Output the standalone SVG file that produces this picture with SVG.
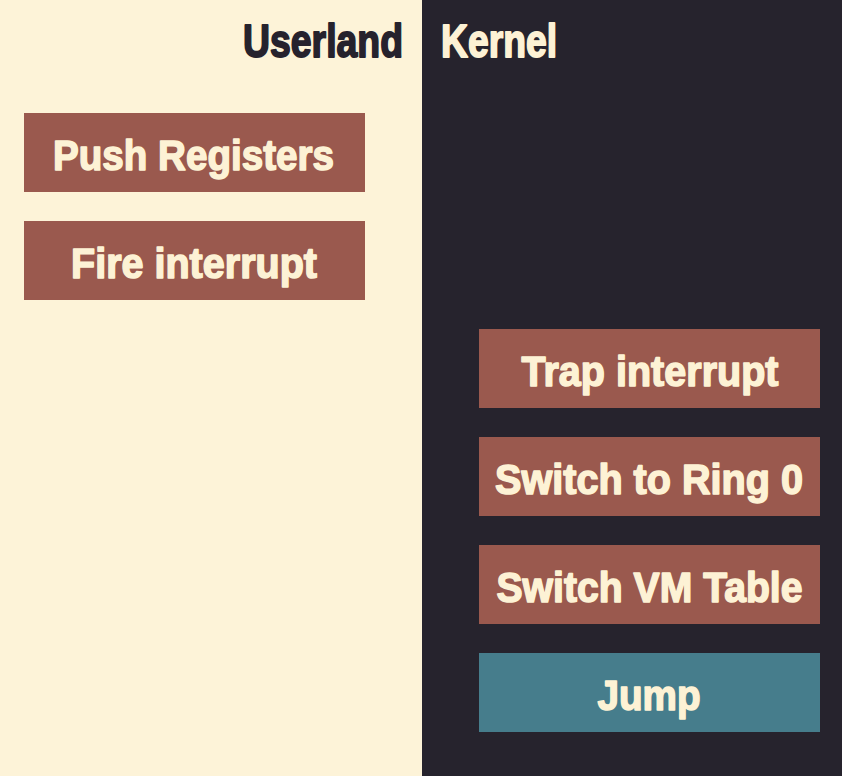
<svg xmlns="http://www.w3.org/2000/svg" width="842" height="776" viewBox="0 0 842 776">
<style>
.lbl{font-family:"Liberation Sans",Arial,sans-serif;font-weight:bold;font-size:43px;fill:#FDF2D5;stroke:#FDF2D5;stroke-width:1.6px;stroke-linejoin:round;text-anchor:middle}
.hdr{font-family:"Liberation Sans",Arial,sans-serif;font-weight:bold;font-size:46px;stroke-width:1.8px;stroke-linejoin:round}
.red{fill:#9A594E}
.teal{fill:#467D8C}
</style>
<rect x="0" y="0" width="422" height="776" fill="#FDF3D8"/>
<rect x="422" y="0" width="420" height="776" fill="#26232D"/>
<g id="header-userland"><text class="hdr" x="243" y="57" fill="#26222D" stroke="#26222D" textLength="160" lengthAdjust="spacingAndGlyphs">Userland</text></g>
<g id="header-kernel"><text class="hdr" x="441" y="57" fill="#FDF2D5" stroke="#FDF2D5" textLength="116" lengthAdjust="spacingAndGlyphs">Kernel</text></g>
<g id="push-registers"><rect class="red" x="24" y="113" width="341" height="79"/><text class="lbl" x="193.5" y="169.5" textLength="281" lengthAdjust="spacingAndGlyphs">Push Registers</text></g>
<g id="fire-interrupt"><rect class="red" x="24" y="221" width="341" height="79"/><text class="lbl" x="194" y="277.5" textLength="246" lengthAdjust="spacingAndGlyphs">Fire interrupt</text></g>
<g id="trap-interrupt"><rect class="red" x="479" y="329" width="341" height="79"/><text class="lbl" x="650" y="385.5" textLength="257" lengthAdjust="spacingAndGlyphs">Trap interrupt</text></g>
<g id="switch-ring"><rect class="red" x="479" y="437" width="341" height="79"/><text class="lbl" x="649" y="493.5" textLength="308" lengthAdjust="spacingAndGlyphs">Switch to Ring 0</text></g>
<g id="switch-vm"><rect class="red" x="479" y="545" width="341" height="79"/><text class="lbl" x="649.5" y="601.5" textLength="306" lengthAdjust="spacingAndGlyphs">Switch VM Table</text></g>
<g id="jump"><rect class="teal" x="479" y="653" width="341" height="79"/><text class="lbl" x="649" y="709.5" textLength="103" lengthAdjust="spacingAndGlyphs">Jump</text></g>
<g id="connectors"></g>
</svg>
